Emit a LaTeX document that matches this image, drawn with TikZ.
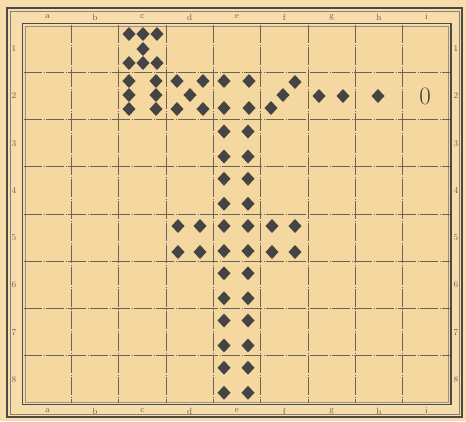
\documentclass[tikz,border=0pt]{standalone}
\usepackage{tikz}
\definecolor{paper}{HTML}{F5D7A0}
\definecolor{marg}{HTML}{F7DDAB}
\definecolor{ink}{HTML}{444444}
\definecolor{gridc}{HTML}{6A6358}
\definecolor{framec}{HTML}{4E4A42}
\begin{document}
\begin{tikzpicture}[x=1pt,y=-1pt,
  lbl/.style={font=\fontsize{9}{10}\selectfont, text=ink!85, inner sep=0pt},
  gridline/.style={draw=gridc, line width=0.6pt, dash pattern=on 18pt off 1.5pt on 1pt off 1.5pt},
  dmd/.pic={\fill[ink] (-6.5,0)--(0,-7)--(6.5,0)--(0,7)--cycle;}]
\useasboundingbox (0,0) rectangle (466,421);
\fill[marg] (0,0) rectangle (466,421);
\fill[paper] (24,25) rectangle (450,403);
% outer frame
\draw[framec, line width=1.6pt] (7,8) rectangle (462,417);
\draw[framec!70, line width=0.5pt] (10,11) rectangle (459,414);
% inner frame
\draw[framec, line width=1.3pt] (22.5,23.5) rectangle (451,404.5);
\draw[framec!60, line width=0.4pt] (25,26) rectangle (448.5,402);
% grid
\foreach \i in {1,...,8} \draw[gridline] ({24+47.333*\i},25) -- ({24+47.333*\i},403);
\foreach \j in {1,...,7} \draw[gridline] (24,{25+47.25*\j}) -- (450,{25+47.25*\j});
% labels
\foreach \l [count=\k] in {a,b,c,d,e,f,g,h,i} {
  \node[lbl] (top\l) at ({24+47.333*(\k-0.5)},17) {\l};
  \node[lbl] (bot\l) at ({24+47.333*(\k-0.5)},411) {\l};
}
\foreach \k in {1,...,8} {
  \node[lbl] (left\k) at (14,{25+47.25*(\k-0.5)}) {\k};
  \node[lbl] (right\k) at (456,{25+47.25*(\k-0.5)}) {\k};
}
% c1: seven
\foreach \p in {(129,34),(143,34),(157,34),(143,49),(129,63),(143,63),(157,63)} \pic at \p {dmd};
% c2: six
\foreach \p in {(129,81),(156,81),(129,95),(156,95),(129,109),(156,109)} \pic at \p {dmd};
% d2: five
\foreach \p in {(177,81),(203,81),(190,95),(177,109),(203,109)} \pic at \p {dmd};
% e2: four
\foreach \p in {(224,81),(249,81),(224,108),(249,108)} \pic at \p {dmd};
% f2: three
\foreach \p in {(295,82),(283,95),(271,108)} \pic at \p {dmd};
% g2: two
\foreach \p in {(319,96),(343,96)} \pic at \p {dmd};
% h2: one
\pic at (378,96) {dmd};
% i2: zero
\node[font=\fontsize{25}{25}\selectfont, text=ink, inner sep=0pt] (zero) at (425,96) {0};
% column e, rows 3-8
\foreach \r in {3,...,8} {
  \foreach \dx in {224,248} {
    \pic at (\dx,{25+47.25*(\r-1)+12}) {dmd};
    \pic at (\dx,{25+47.25*(\r-1)+37}) {dmd};
  }
}
% d5 and f5
\foreach \dx in {178,200,272,295} {
  \pic at (\dx,226) {dmd};
  \pic at (\dx,252) {dmd};
}
\end{tikzpicture}
\end{document}
